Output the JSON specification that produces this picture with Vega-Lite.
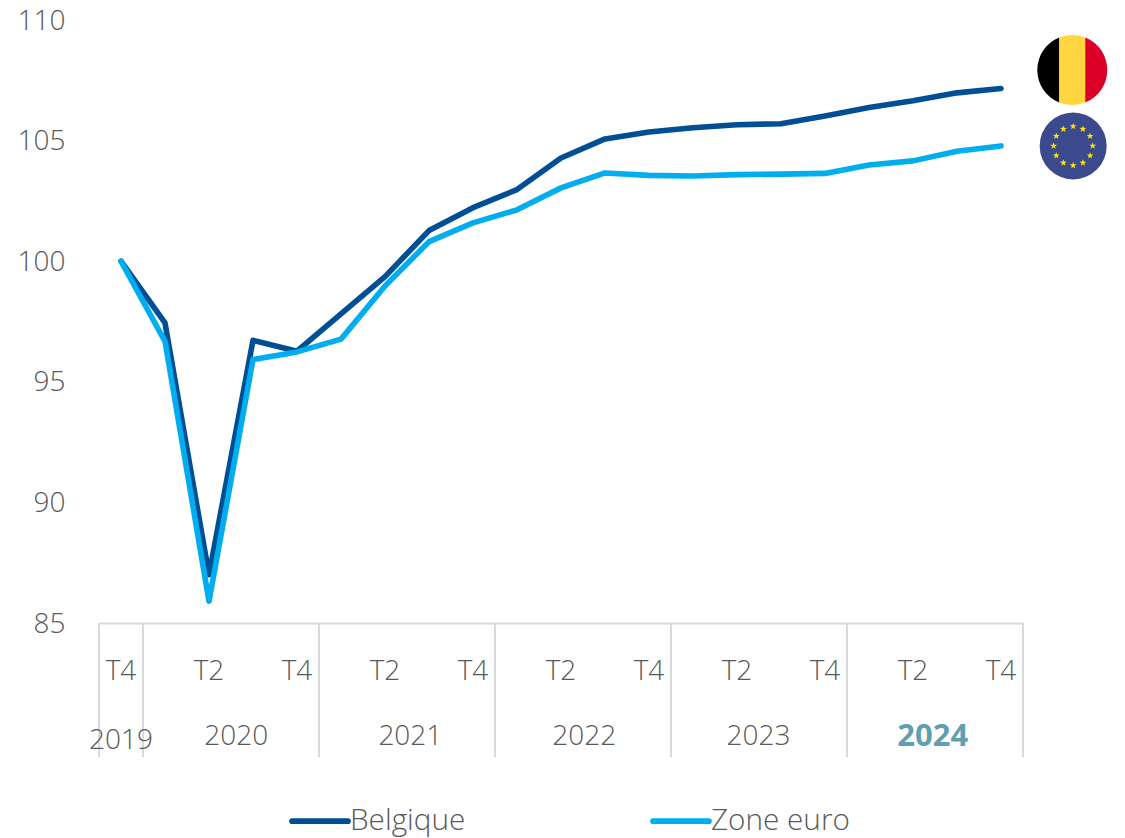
{
"$schema":"https://vega.github.io/schema/vega-lite/v6.json",
"width":924,"height":603,
"autosize":{"type":"none"},
"padding":{"left":99,"top":20,"right":102,"bottom":215},
"background":"white",
"config":{"view":{"stroke":null},"font":"Open Sans"},
"datasets":{
"rows":[
{"t":0,"q":"T4 2019","s":"Belgique","v":100},{"t":1,"q":"T1 2020","s":"Belgique","v":97.44},{"t":2,"q":"T2 2020","s":"Belgique","v":87.0},{"t":3,"q":"T3 2020","s":"Belgique","v":96.72},{"t":4,"q":"T4 2020","s":"Belgique","v":96.27},{"t":5,"q":"T1 2021","s":"Belgique","v":97.82},{"t":6,"q":"T2 2021","s":"Belgique","v":99.36},{"t":7,"q":"T3 2021","s":"Belgique","v":101.27},{"t":8,"q":"T4 2021","s":"Belgique","v":102.22},{"t":9,"q":"T1 2022","s":"Belgique","v":102.97},{"t":10,"q":"T2 2022","s":"Belgique","v":104.28},{"t":11,"q":"T3 2022","s":"Belgique","v":105.07},{"t":12,"q":"T4 2022","s":"Belgique","v":105.36},{"t":13,"q":"T1 2023","s":"Belgique","v":105.53},{"t":14,"q":"T2 2023","s":"Belgique","v":105.66},{"t":15,"q":"T3 2023","s":"Belgique","v":105.7},{"t":16,"q":"T4 2023","s":"Belgique","v":106.02},{"t":17,"q":"T1 2024","s":"Belgique","v":106.37},{"t":18,"q":"T2 2024","s":"Belgique","v":106.65},{"t":19,"q":"T3 2024","s":"Belgique","v":106.98},{"t":20,"q":"T4 2024","s":"Belgique","v":107.16},
{"t":0,"q":"T4 2019","s":"Zone euro","v":100},{"t":1,"q":"T1 2020","s":"Zone euro","v":96.68},{"t":2,"q":"T2 2020","s":"Zone euro","v":85.9},{"t":3,"q":"T3 2020","s":"Zone euro","v":95.92},{"t":4,"q":"T4 2020","s":"Zone euro","v":96.24},{"t":5,"q":"T1 2021","s":"Zone euro","v":96.77},{"t":6,"q":"T2 2021","s":"Zone euro","v":98.97},{"t":7,"q":"T3 2021","s":"Zone euro","v":100.81},{"t":8,"q":"T4 2021","s":"Zone euro","v":101.59},{"t":9,"q":"T1 2022","s":"Zone euro","v":102.13},{"t":10,"q":"T2 2022","s":"Zone euro","v":103.04},{"t":11,"q":"T3 2022","s":"Zone euro","v":103.66},{"t":12,"q":"T4 2022","s":"Zone euro","v":103.56},{"t":13,"q":"T1 2023","s":"Zone euro","v":103.53},{"t":14,"q":"T2 2023","s":"Zone euro","v":103.59},{"t":15,"q":"T3 2023","s":"Zone euro","v":103.61},{"t":16,"q":"T4 2023","s":"Zone euro","v":103.64},{"t":17,"q":"T1 2024","s":"Zone euro","v":103.99},{"t":18,"q":"T2 2024","s":"Zone euro","v":104.16},{"t":19,"q":"T3 2024","s":"Zone euro","v":104.56},{"t":20,"q":"T4 2024","s":"Zone euro","v":104.78}
],
"seps":[{"t":-0.5,"a":85,"b":79.44},{"t":0.5,"a":85,"b":79.44},{"t":4.5,"a":85,"b":79.44},{"t":8.5,"a":85,"b":79.44},{"t":12.5,"a":85,"b":79.44},{"t":16.5,"a":85,"b":79.44},{"t":20.5,"a":85,"b":79.44}],
"quarters":[{"t":0,"v":82.98,"l":"T4"},{"t":2,"v":82.98,"l":"T2"},{"t":4,"v":82.98,"l":"T4"},{"t":6,"v":82.98,"l":"T2"},{"t":8,"v":82.98,"l":"T4"},{"t":10,"v":82.98,"l":"T2"},{"t":12,"v":82.98,"l":"T4"},{"t":14,"v":82.98,"l":"T2"},{"t":16,"v":82.98,"l":"T4"},{"t":18,"v":82.98,"l":"T2"},{"t":20,"v":82.98,"l":"T4"}],
"years":[{"t":0,"v":80.12,"l":"2019"},{"t":2.62,"v":80.28,"l":"2020"},{"t":6.576,"v":80.28,"l":"2021"},{"t":10.53,"v":80.28,"l":"2022"},{"t":14.49,"v":80.28,"l":"2023"}],
"yearBold":[{"t":18.45,"v":80.28,"l":"2024"}],
"be":[{"t":21.62,"v":107.93}],
"eu":[{"t":21.64,"v":104.78}],
"stars":[{"t":21.64,"v":105.59},{"t":21.862,"v":105.48},{"t":22.024,"v":105.184},{"t":22.084,"v":104.78},{"t":22.024,"v":104.376},{"t":21.862,"v":104.08},{"t":21.64,"v":103.97},{"t":21.418,"v":104.08},{"t":21.256,"v":104.376},{"t":21.196,"v":104.78},{"t":21.256,"v":105.184},{"t":21.418,"v":105.48}]
},
"layer":[
{"data":{"name":"seps"},"mark":{"type":"rule","color":"#d9d9d9","strokeWidth":2},"encoding":{
"x":{"field":"t","type":"quantitative","scale":{"domain":[-0.5,20.5],"nice":false,"zero":false},"axis":{"orient":"bottom","title":null,"labels":false,"ticks":false,"grid":false,"domain":true,"domainColor":"#d9d9d9","domainWidth":2}},
"y":{"field":"a","type":"quantitative","scale":{"domain":[85,110],"nice":false,"zero":false},"axis":{"title":null,"values":[85,90,95,100,105,110],"ticks":false,"grid":false,"domain":false,"labelPadding":34,"labelOffset":1,"labelFontSize":28,"labelFont":"Open Sans","labelFontWeight":300,"labelColor":"#595959"}},"y2":{"field":"b"}}},
{"data":{"name":"rows"},"mark":{"type":"line","strokeWidth":5.6,"strokeCap":"round","strokeJoin":"round"},
"encoding":{"x":{"field":"t","type":"quantitative"},"y":{"field":"v","type":"quantitative"},"color":{"field":"s","type":"nominal","scale":{"domain":["Belgique","Zone euro"],"range":["#004f95","#00aeef"]},
"legend":{"title":null,"orient":"none","legendX":190,"legendY":770,"direction":"horizontal","columns":2,"columnPadding":175,"symbolType":"stroke","symbolSize":3136,"symbolStrokeWidth":5.6,"labelFontSize":29.7,"labelFont":"Open Sans","labelFontWeight":300,"labelColor":"#595959","labelOffset":-1,"labelLimit":300,"encode":{"symbols":{"update":{"strokeCap":{"value":"round"}}}}}}}},
{"data":{"name":"quarters"},"mark":{"type":"text","fontSize":28,"fontWeight":300,"font":"Open Sans","color":"#595959","align":"center","baseline":"middle"},"encoding":{"x":{"field":"t","type":"quantitative"},"y":{"field":"v","type":"quantitative"},"text":{"field":"l"}}},
{"data":{"name":"years"},"mark":{"type":"text","fontSize":28,"fontWeight":300,"font":"Open Sans","color":"#595959","align":"center","baseline":"middle"},"encoding":{"x":{"field":"t","type":"quantitative"},"y":{"field":"v","type":"quantitative"},"text":{"field":"l"}}},
{"data":{"name":"yearBold"},"mark":{"type":"text","fontSize":31,"fontWeight":700,"font":"Open Sans","color":"#5f9fb3","align":"center","baseline":"middle"},"encoding":{"x":{"field":"t","type":"quantitative"},"y":{"field":"v","type":"quantitative"},"text":{"field":"l"}}},
{"data":{"name":"be"},"mark":{"type":"point","filled":true,"size":4900,"opacity":1,"color":"#000000","strokeWidth":0,"shape":"M-.37,-.929C-.75,-.778,-1,-.409,-1,0C-1,.409,-.75,.778,-.37,.929Z"},"encoding":{"x":{"field":"t","type":"quantitative"},"y":{"field":"v","type":"quantitative"}}},
{"data":{"name":"be"},"mark":{"type":"point","filled":true,"size":4900,"opacity":1,"color":"#ffd63f","strokeWidth":0,"shape":"M-.37,-.929C-.133,-1.0235,.133,-1.0235,.37,-.929L.37,.929C.133,1.0235,-.133,1.0235,-.37,.929Z"},"encoding":{"x":{"field":"t","type":"quantitative"},"y":{"field":"v","type":"quantitative"}}},
{"data":{"name":"be"},"mark":{"type":"point","filled":true,"size":4900,"opacity":1,"color":"#dc0028","strokeWidth":0,"shape":"M.37,-.929C.75,-.778,1,-.409,1,0C1,.409,.75,.778,.37,.929Z"},"encoding":{"x":{"field":"t","type":"quantitative"},"y":{"field":"v","type":"quantitative"}}},
{"data":{"name":"eu"},"mark":{"type":"point","filled":true,"size":4490,"opacity":1,"color":"#3a4a8c","strokeWidth":0,"shape":"circle"},"encoding":{"x":{"field":"t","type":"quantitative"},"y":{"field":"v","type":"quantitative"}}},
{"data":{"name":"stars"},"mark":{"type":"point","filled":true,"size":52,"opacity":1,"color":"#ffe600","strokeWidth":0,"shape":"M0,-1L.235,-.324L.951,-.309L.38,.124L.588,.809L0,.4L-.588,.809L-.38,.124L-.951,-.309L-.235,-.324Z"},"encoding":{"x":{"field":"t","type":"quantitative"},"y":{"field":"v","type":"quantitative"}}}
]
}
